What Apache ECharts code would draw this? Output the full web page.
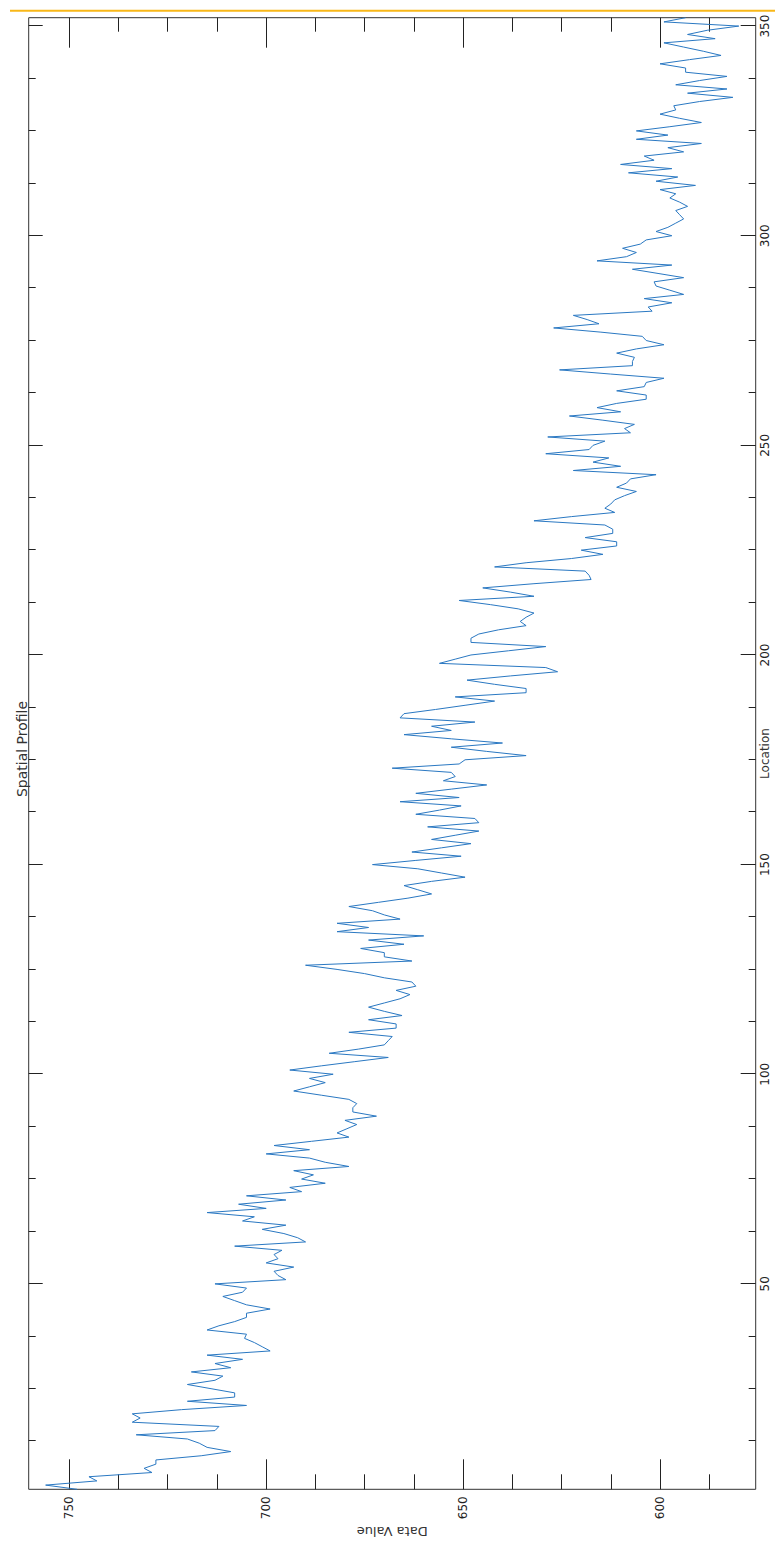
<!DOCTYPE html>
<html>
<head>
<meta charset="utf-8">
<title>Spatial Profile</title>
<script src="https://cdn.jsdelivr.net/npm/echarts@6.0.0/dist/echarts.min.js"></script>
<style>
html, body { margin: 0; padding: 0; width: 775px; height: 1544px; overflow: hidden; background: #fff; }
/* the plot is drawn landscape and turned a quarter turn to the left */
#chart { position: absolute; left: 0; top: 0; width: 1544px; height: 775px;
         transform-origin: 0 0; transform: translate(0, 1544px) rotate(-90deg); }
</style>
</head>
<body>
<div id="chart"></div>
<script>
var chart = echarts.init(document.getElementById('chart'), null, { renderer: 'svg' });

// profile values, one per location (1..352)
var dataValue = [
	748, 756, 743, 745, 729, 731, 728, 728, 716.5, 709,
	715, 717, 720, 733, 713, 712, 734, 732, 734, 721.5,
	705, 720, 708, 708, 714, 720, 713, 711, 719, 709,
	713, 706, 715, 699, 701, 703, 705.5, 705, 715, 712,
	708, 705, 705, 699, 705, 708, 711, 706, 705, 713,
	695, 697, 698, 693, 700, 697, 698, 696, 708, 690,
	692, 695.5, 701, 695, 706, 703, 715, 700, 707, 695,
	705, 691, 694, 685, 691, 688, 693, 679, 685, 689,
	700, 689, 698, 688.5, 679, 682, 679.5, 677, 680, 672,
	678, 678, 677, 679, 686, 693, 689, 685, 689, 683,
	694, 686, 677.5, 669, 684, 676.5, 670, 669, 668, 679,
	667, 667, 674, 665.5, 670, 674, 670, 666, 663.5, 667,
	662, 663, 670, 675, 682, 690, 663, 670, 670, 676,
	665, 674, 660, 682, 674, 682, 666, 670, 673, 679,
	671.5, 664, 658, 661.5, 665, 658, 649.5, 655.5, 661.5, 673,
	662, 650.5, 663, 655.5, 648, 658, 652, 646, 659, 646,
	647, 662, 656, 650.5, 666, 651, 662, 653, 644, 655,
	652, 653, 668, 651, 649.5, 634, 644, 653, 640, 653,
	665, 653, 658, 647, 666, 665, 657, 649.5, 642, 652,
	634, 634, 642, 649, 638, 626, 629, 656, 652, 648,
	638.5, 629, 648, 648, 646, 641, 634, 635.5, 634, 632,
	636, 643, 651, 632, 638, 645, 632, 617.5, 618, 619,
	642, 634, 622.5, 614.5, 620, 611, 611, 619, 612, 612,
	614, 632, 622.5, 611.5, 614, 612.5, 611.5, 609, 606, 611,
	608.5, 607.5, 601, 622, 610, 617, 613, 629, 618, 617,
	614, 628.5, 607.5, 609, 606.5, 614.5, 623, 610, 616, 611,
	603.5, 603.5, 611, 604, 603.5, 599, 612.5, 625.5, 607, 607,
	606.5, 611, 606, 599, 603.5, 604.5, 615, 627, 615.5, 618.5,
	622, 602, 603, 597, 604, 594, 597.5, 601, 601.5, 594,
	600.5, 607, 597, 616, 608.5, 606, 609.5, 605, 603.5, 597,
	601, 598, 596, 594, 595, 596, 593, 595, 597.5, 596,
	600, 591, 601, 595.5, 608, 597, 610, 601.5, 604, 594,
	598, 589.5, 606, 598, 606, 597.5, 589.5, 595, 600, 596,
	596.5, 590, 581.5, 593, 583, 596, 590, 583, 593.5, 593.5,
	600, 592.5, 584.5, 589, 594, 599, 586, 593, 588, 580, 599, 593.5
];
var firstLocation = 1;

// tick values
var locMajor = [50, 100, 150, 200, 250, 300, 350];
var locMinor = [12.5, 25, 37.5, 62.5, 75, 87.5, 112.5, 125, 137.5, 162.5, 175, 187.5,
	212.5, 225, 237.5, 262.5, 275, 287.5, 312.5, 325, 337.5];
var valMajor = [600, 650, 700, 750];
var valMinor = [587.5, 612.5, 625, 637.5, 662.5, 675, 687.5, 712.5, 725, 737.5];

var locRange = [1, 352];
var valRange = [575.7, 760.3];

var seriesData = [];
for (var i = 0; i < dataValue.length; i++) {
	seriesData.push([firstLocation + i, dataValue[i]]);
}

var font = 'DejaVu Sans';
var ink = '#222';

function xAx(pos, ticks, len, labels) {
	return {
		type: 'value', position: pos, min: locRange[0], max: locRange[1],
		axisLine: { show: false, onZero: false },
		axisTick: { show: true, inside: true, length: len, customValues: ticks, lineStyle: { color: ink } },
		axisLabel: { show: labels, customValues: ticks, margin: 3, fontSize: 12, color: ink, fontFamily: font },
		splitLine: { show: false }
	};
}
function yAx(pos, ticks, len, labels) {
	return {
		type: 'value', position: pos, min: valRange[0], max: valRange[1],
		axisLine: { show: false, onZero: false },
		axisTick: { show: true, inside: true, length: len, customValues: ticks, lineStyle: { color: ink } },
		axisLabel: { show: labels, customValues: ticks, margin: 7, fontSize: 12, color: ink, fontFamily: font },
		splitLine: { show: false }
	};
}

var xMain = xAx('bottom', locMajor, 15, true);
xMain.name = 'Location';
xMain.nameLocation = 'middle';
xMain.nameGap = 3;
xMain.nameMoveOverlap = false;
xMain.nameTextStyle = { fontSize: 12, color: '#333', fontFamily: font };

var yMain = yAx('left', valMajor, 30, true);
yMain.name = 'Data Value';
yMain.nameLocation = 'middle';
yMain.nameGap = 36;
yMain.nameMoveOverlap = false;
yMain.nameTextStyle = { fontSize: 13, color: '#333', fontFamily: font };

var option = {
	animation: false,
	backgroundColor: '#fff',
	title: {
		text: 'Spatial Profile',
		left: 790,
		top: 10,
		textAlign: 'center',
		textStyle: { fontSize: 14, fontWeight: 'normal', color: '#333', fontFamily: font }
	},
	grid: {
		left: 54.7, right: 17.7, top: 28.7, bottom: 19.3,
		containLabel: false,
		outerBoundsMode: 'none',
		show: true, borderColor: '#333', borderWidth: 1, backgroundColor: '#fff'
	},
	xAxis: [
		xMain,
		xAx('bottom', locMinor, 7, false),
		xAx('top', locMajor, 14, false),
		xAx('top', locMinor, 7, false)
	],
	yAxis: [
		yMain,
		yAx('left', valMinor, 15, false),
		yAx('right', valMajor, 30, false),
		yAx('right', valMinor, 14, false)
	],
	graphic: [{
		type: 'line',
		shape: { x1: 1533.3, y1: 10, x2: 1533.3, y2: 775 },
		style: { stroke: '#f8b718', lineWidth: 2 }
	}],
	series: [{
		name: 'Spatial Profile',
		type: 'line',
		xAxisIndex: 0,
		yAxisIndex: 0,
		data: seriesData,
		showSymbol: false,
		lineStyle: { color: '#2a78c2', width: 1 }
	}]
};

chart.setOption(option);
</script>
</body>
</html>
